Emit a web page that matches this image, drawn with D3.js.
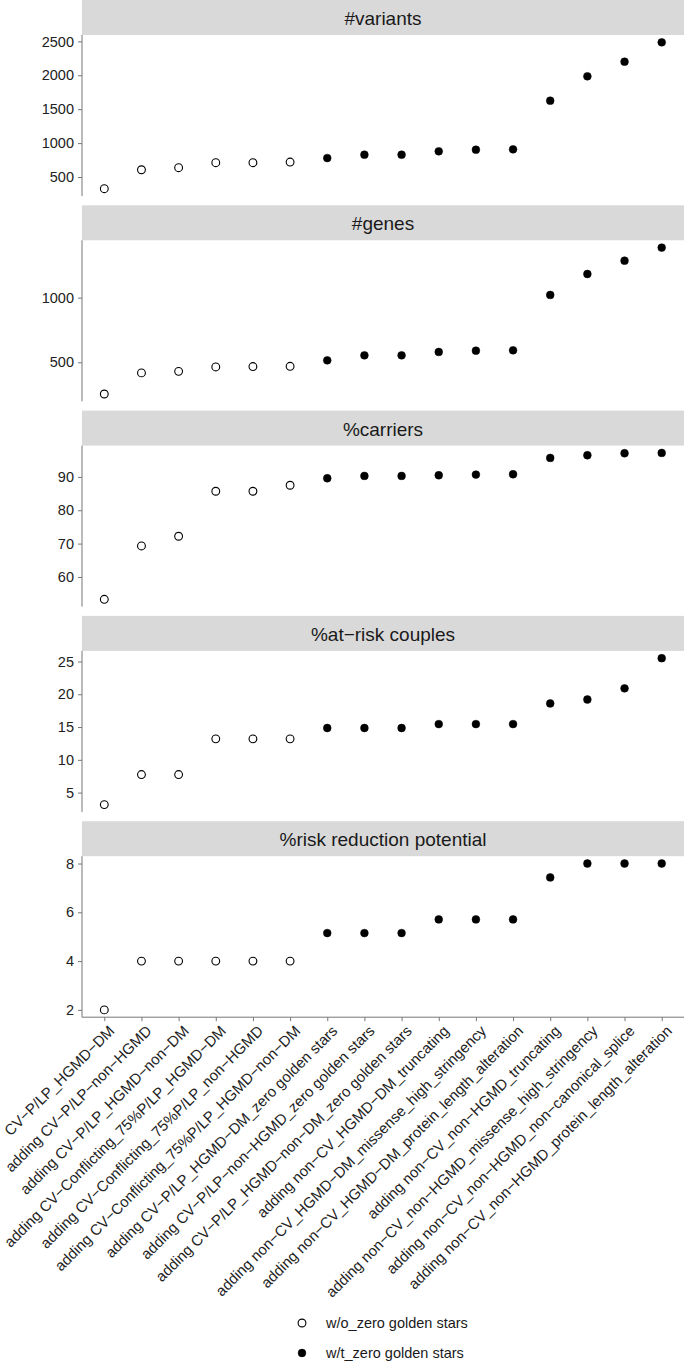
<!DOCTYPE html>
<html><head><meta charset="utf-8">
<script src="https://cdn.jsdelivr.net/npm/d3@7"></script>
<style>body{margin:0;background:#fff}svg{display:block;font-family:"Liberation Sans",Arial,sans-serif}</style>
</head><body><svg id="c" width="685" height="1362"></svg>
<script>
const categories = [
  "CV−P/LP_HGMD−DM",
  "adding CV−P/LP−non−HGMD",
  "adding CV−P/LP_HGMD−non−DM",
  "adding CV−Conflicting_75%P/LP_HGMD−DM",
  "adding CV−Conflicting_75%P/LP_non−HGMD",
  "adding CV−Conflicting_75%P/LP_HGMD−non−DM",
  "adding CV−P/LP_HGMD−DM_zero golden stars",
  "adding CV−P/LP−non−HGMD_zero golden stars",
  "adding CV−P/LP_HGMD−non−DM_zero golden stars",
  "adding non−CV_HGMD−DM_truncating",
  "adding non−CV_HGMD−DM_missense_high_stringency",
  "adding non−CV_HGMD−DM_protein_length_alteration",
  "adding non−CV_non−HGMD_truncating",
  "adding non−CV_non−HGMD_missense_high_stringency",
  "adding non−CV_non−HGMD_non−canonical_splice",
  "adding non−CV_non−HGMD_protein_length_alteration"
];
const groupOf = ["w/o","w/o","w/o","w/o","w/o","w/o","w/t","w/t","w/t","w/t","w/t","w/t","w/t","w/t","w/t","w/t"];
const variants = [328,607,637,711,711,721,780,829,829,879,903,908,1625,1985,2200,2486];
const genes = [255,418,430,464,467,469,515,554,554,580,590,593,1021,1183,1286,1387];
const carriers = [53.3,69.3,72.2,85.7,85.7,87.5,89.6,90.3,90.3,90.5,90.7,90.8,95.7,96.5,97.1,97.2];
const atRiskCouples = [3.17,7.75,7.75,13.2,13.2,13.2,14.85,14.85,14.85,15.45,15.45,15.45,18.6,19.2,20.9,25.5];
const riskReduction = [2.0,4,4,4,4,4,5.15,5.15,5.15,5.71,5.71,5.71,7.43,8.0,8.0,8.0];
const panelTitles = ["#variants","#genes","%carriers","%at−risk couples","%risk reduction potential"];
const yTicks = [[500,1000,1500,2000,2500],[500,1000],[60,70,80,90],[5,10,15,20,25],[2,4,6,8]];
const legendKeys = ["w/o","w/t"];
const legendLabels = ["w/o_zero golden stars","w/t_zero golden stars"];

const series = [variants, genes, carriers, atRiskCouples, riskReduction];
const svg = d3.select("#c");
const L = 82, R = 684, stripH = 35, plotH = 161, period = 205.3;
const FONT = "Liberation Sans, Arial, sans-serif";

const x = d3.scalePoint().domain(categories).range([L, R]).padding(0.6);

series.forEach((vals, i) => {
  const sTop = i * period, pTop = sTop + stripH, pBot = pTop + plotH;
  const [mn, mx] = d3.extent(vals);
  const ex = (mx - mn) * 0.05;
  const y = d3.scaleLinear().domain([mn - ex, mx + ex]).range([pBot, pTop]);
  const g = svg.append("g");
  g.append("rect").attr("x", L).attr("y", sTop).attr("width", R - L).attr("height", stripH).attr("fill", "#d9d9d9");
  g.append("text").attr("x", (L + R) / 2).attr("y", sTop + 25).attr("text-anchor", "middle")
    .attr("font-size", 19).attr("fill", "#1a1a1a").text(panelTitles[i]);
  const ya = g.append("g").attr("transform", `translate(${L},0)`)
    .call(d3.axisLeft(y).tickValues(yTicks[i]).tickFormat(d3.format("d")).tickSize(4).tickPadding(4).tickSizeOuter(0));
  ya.select(".domain").attr("stroke", "#777").attr("d", `M0,${pTop}V${pBot}`);
  ya.selectAll(".tick line").attr("stroke", "#777");
  ya.selectAll(".tick text").attr("font-size", 14.5).attr("fill", "#222").attr("font-family", FONT);
  g.selectAll("circle.pt").data(vals).join("circle").attr("class", "pt")
    .attr("cx", (d, j) => x(categories[j])).attr("cy", d => y(d)).attr("r", 3.9)
    .attr("fill", (d, j) => groupOf[j] === "w/o" ? "#fff" : "#000")
    .attr("stroke", "#000").attr("stroke-width", (d, j) => groupOf[j] === "w/o" ? 1.1 : 0.5);
  if (i === series.length - 1) {
    const xa = g.append("g").attr("transform", `translate(0,${pBot})`)
      .call(d3.axisBottom(x).tickSize(4).tickSizeOuter(0));
    xa.select(".domain").attr("stroke", "#777").attr("d", `M${L},0H${R}`);
    xa.selectAll(".tick line").attr("stroke", "#777");
    xa.selectAll(".tick text").attr("font-size", 15).attr("fill", "#222")
      .attr("font-family", FONT)
      .attr("text-anchor", "end").attr("dy", "0.72em").attr("y", 0)
      .attr("transform", "translate(3,7) rotate(-45)");
  }
});

const lg = svg.append("g");
legendKeys.forEach((k, i) => {
  const cy = 1323 + i * 30;
  lg.append("circle").attr("cx", 302).attr("cy", cy).attr("r", 3.9)
    .attr("fill", k === "w/o" ? "#fff" : "#000").attr("stroke", "#000").attr("stroke-width", k === "w/o" ? 1.1 : 0.5);
  lg.append("text").attr("x", 326).attr("y", cy).attr("dy", "0.35em").attr("font-size", 14.5).attr("fill", "#1a1a1a").text(legendLabels[i]);
});
</script></body></html>
